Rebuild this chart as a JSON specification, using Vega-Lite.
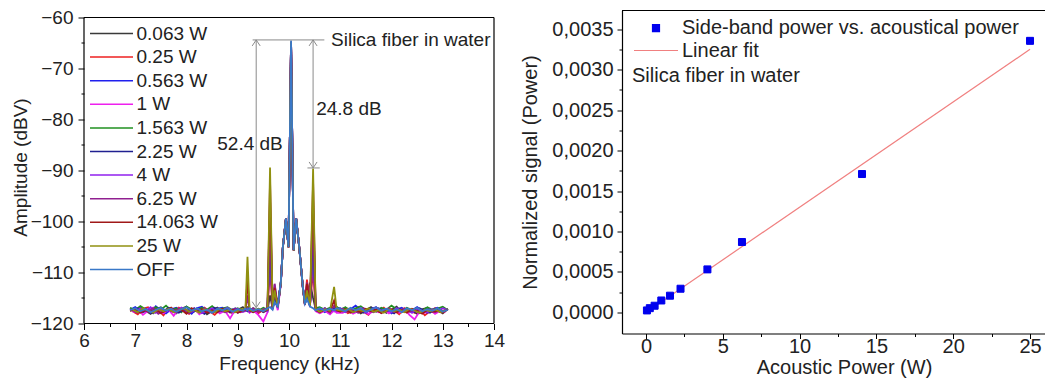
{
"$schema":"https://vega.github.io/schema/vega-lite/v6.json",
"padding":{"left":11,"top":7.5,"right":0,"bottom":0},
"config":{"font":"Liberation Sans","concat":{"spacing":15},
"axis":{"labelFont":"Liberation Sans","titleFont":"Liberation Sans","labelColor":"#222","titleColor":"#222","titleFontWeight":"normal","tickColor":"#000","domainColor":"#000","grid":false,"tickWidth":1,"labelFlush":false,"labelOverlap":false},
"legend":{"labelFont":"Liberation Sans","labelColor":"#222"}},
"resolve":{"scale":{"color":"independent","shape":"independent"},"legend":{"color":"independent","shape":"independent"}},
"datasets":{
"spec":[
{"s":"0.063 W","f":6.9,"a":-117.0},{"s":"0.063 W","f":7.0,"a":-117.8},{"s":"0.063 W","f":7.1,"a":-116.9},{"s":"0.063 W","f":7.2,"a":-117.5},{"s":"0.063 W","f":7.3,"a":-118.1},{"s":"0.063 W","f":7.4,"a":-117.2},{"s":"0.063 W","f":7.5,"a":-116.8},{"s":"0.063 W","f":7.6,"a":-117.6},{"s":"0.063 W","f":7.7,"a":-117.3},{"s":"0.063 W","f":7.8,"a":-118.0},{"s":"0.063 W","f":7.9,"a":-117.1},{"s":"0.063 W","f":8.0,"a":-116.7},{"s":"0.063 W","f":8.1,"a":-117.9},{"s":"0.063 W","f":8.2,"a":-117.4},{"s":"0.063 W","f":8.3,"a":-117.0},{"s":"0.063 W","f":8.4,"a":-118.2},{"s":"0.063 W","f":8.5,"a":-117.5},{"s":"0.063 W","f":8.6,"a":-116.9},{"s":"0.063 W","f":8.7,"a":-117.7},{"s":"0.063 W","f":8.8,"a":-117.2},{"s":"0.063 W","f":8.9,"a":-118.0},{"s":"0.063 W","f":9.0,"a":-117.3},{"s":"0.063 W","f":9.1,"a":-116.8},
{"s":"0.063 W","f":9.15,"a":-117.4},{"s":"0.063 W","f":9.19,"a":-117.0},{"s":"0.063 W","f":9.23,"a":-117.6},{"s":"0.063 W","f":9.3,"a":-117.2},{"s":"0.063 W","f":9.4,"a":-117.9},{"s":"0.063 W","f":9.5,"a":-117.1},{"s":"0.063 W","f":9.58,"a":-117.5},{"s":"0.063 W","f":9.63,"a":-114.5},{"s":"0.063 W","f":9.68,"a":-117.0},{"s":"0.063 W","f":9.72,"a":-115.5},{"s":"0.063 W","f":9.78,"a":-116.6},{"s":"0.063 W","f":9.84,"a":-112.0},{"s":"0.063 W","f":9.88,"a":-105.2},{"s":"0.063 W","f":9.94,"a":-99.5},{"s":"0.063 W","f":9.99,"a":-105.0},{"s":"0.063 W","f":10.04,"a":-64.9},{"s":"0.063 W","f":10.09,"a":-105.6},{"s":"0.063 W","f":10.14,"a":-99.5},{"s":"0.063 W","f":10.2,"a":-105.2},{"s":"0.063 W","f":10.27,"a":-113.0},{"s":"0.063 W","f":10.31,"a":-116.2},{"s":"0.063 W","f":10.35,"a":-114.5},{"s":"0.063 W","f":10.41,"a":-112.0},{"s":"0.063 W","f":10.47,"a":-115.0},{"s":"0.063 W","f":10.52,"a":-117.2},{"s":"0.063 W","f":10.6,"a":-117.6},{"s":"0.063 W","f":10.7,"a":-117.0},{"s":"0.063 W","f":10.8,"a":-117.8},{"s":"0.063 W","f":10.88,"a":-117.3},{"s":"0.063 W","f":10.93,"a":-116.9},
{"s":"0.063 W","f":11.0,"a":-117.5},{"s":"0.063 W","f":11.1,"a":-116.9},{"s":"0.063 W","f":11.2,"a":-117.7},{"s":"0.063 W","f":11.3,"a":-117.2},{"s":"0.063 W","f":11.4,"a":-118.0},{"s":"0.063 W","f":11.5,"a":-117.4},{"s":"0.063 W","f":11.6,"a":-116.8},{"s":"0.063 W","f":11.7,"a":-117.6},{"s":"0.063 W","f":11.8,"a":-117.1},{"s":"0.063 W","f":11.9,"a":-117.9},{"s":"0.063 W","f":12.0,"a":-117.3},{"s":"0.063 W","f":12.1,"a":-116.7},{"s":"0.063 W","f":12.2,"a":-117.8},{"s":"0.063 W","f":12.3,"a":-117.0},{"s":"0.063 W","f":12.4,"a":-117.5},{"s":"0.063 W","f":12.5,"a":-118.1},{"s":"0.063 W","f":12.6,"a":-117.2},{"s":"0.063 W","f":12.7,"a":-116.9},{"s":"0.063 W","f":12.8,"a":-117.6},{"s":"0.063 W","f":12.9,"a":-117.3},{"s":"0.063 W","f":13.0,"a":-118.0},{"s":"0.063 W","f":13.1,"a":-117.1},

{"s":"0.25 W","f":6.95,"a":-117.6},{"s":"0.25 W","f":7.05,"a":-118.2},{"s":"0.25 W","f":7.15,"a":-117.1},{"s":"0.25 W","f":7.25,"a":-116.8},{"s":"0.25 W","f":7.35,"a":-117.9},{"s":"0.25 W","f":7.45,"a":-117.4},{"s":"0.25 W","f":7.55,"a":-118.4},{"s":"0.25 W","f":7.65,"a":-117.0},{"s":"0.25 W","f":7.75,"a":-117.7},{"s":"0.25 W","f":7.85,"a":-116.9},{"s":"0.25 W","f":7.95,"a":-117.5},{"s":"0.25 W","f":8.05,"a":-118.1},{"s":"0.25 W","f":8.15,"a":-117.2},{"s":"0.25 W","f":8.25,"a":-117.8},{"s":"0.25 W","f":8.35,"a":-116.9},{"s":"0.25 W","f":8.45,"a":-117.6},{"s":"0.25 W","f":8.55,"a":-118.3},{"s":"0.25 W","f":8.65,"a":-117.3},{"s":"0.25 W","f":8.75,"a":-117.0},{"s":"0.25 W","f":8.85,"a":-117.9},{"s":"0.25 W","f":8.95,"a":-117.4},{"s":"0.25 W","f":9.05,"a":-117.7},
{"s":"0.25 W","f":9.15,"a":-117.2},{"s":"0.25 W","f":9.19,"a":-116.9},{"s":"0.25 W","f":9.23,"a":-117.7},{"s":"0.25 W","f":9.3,"a":-117.5},{"s":"0.25 W","f":9.4,"a":-118.0},{"s":"0.25 W","f":9.5,"a":-117.3},{"s":"0.25 W","f":9.58,"a":-117.0},{"s":"0.25 W","f":9.63,"a":-109.5},{"s":"0.25 W","f":9.68,"a":-116.8},{"s":"0.25 W","f":9.72,"a":-115.0},{"s":"0.25 W","f":9.78,"a":-116.9},{"s":"0.25 W","f":9.84,"a":-112.2},{"s":"0.25 W","f":9.88,"a":-105.0},{"s":"0.25 W","f":9.94,"a":-99.4},{"s":"0.25 W","f":9.99,"a":-105.1},{"s":"0.25 W","f":10.04,"a":-64.7},{"s":"0.25 W","f":10.09,"a":-105.7},{"s":"0.25 W","f":10.14,"a":-99.4},{"s":"0.25 W","f":10.2,"a":-105.0},{"s":"0.25 W","f":10.27,"a":-112.8},{"s":"0.25 W","f":10.31,"a":-116.0},{"s":"0.25 W","f":10.35,"a":-111.4},{"s":"0.25 W","f":10.41,"a":-116.3},{"s":"0.25 W","f":10.47,"a":-109.7},{"s":"0.25 W","f":10.52,"a":-117.0},{"s":"0.25 W","f":10.6,"a":-117.9},{"s":"0.25 W","f":10.7,"a":-117.4},{"s":"0.25 W","f":10.8,"a":-118.1},{"s":"0.25 W","f":10.88,"a":-117.0},{"s":"0.25 W","f":10.93,"a":-117.6},
{"s":"0.25 W","f":11.05,"a":-117.2},{"s":"0.25 W","f":11.15,"a":-118.0},{"s":"0.25 W","f":11.25,"a":-117.5},{"s":"0.25 W","f":11.35,"a":-116.8},{"s":"0.25 W","f":11.45,"a":-117.7},{"s":"0.25 W","f":11.55,"a":-118.3},{"s":"0.25 W","f":11.65,"a":-117.1},{"s":"0.25 W","f":11.75,"a":-117.6},{"s":"0.25 W","f":11.85,"a":-116.9},{"s":"0.25 W","f":11.95,"a":-117.8},{"s":"0.25 W","f":12.05,"a":-117.4},{"s":"0.25 W","f":12.15,"a":-118.2},{"s":"0.25 W","f":12.25,"a":-117.0},{"s":"0.25 W","f":12.35,"a":-117.5},{"s":"0.25 W","f":12.45,"a":-117.9},{"s":"0.25 W","f":12.55,"a":-117.2},{"s":"0.25 W","f":12.65,"a":-118.4},{"s":"0.25 W","f":12.75,"a":-117.6},{"s":"0.25 W","f":12.85,"a":-117.0},{"s":"0.25 W","f":12.95,"a":-117.8},{"s":"0.25 W","f":13.05,"a":-117.3},

{"s":"0.563 W","f":6.9,"a":-117.3},{"s":"0.563 W","f":7.0,"a":-116.8},{"s":"0.563 W","f":7.1,"a":-117.7},{"s":"0.563 W","f":7.2,"a":-117.1},{"s":"0.563 W","f":7.3,"a":-117.9},{"s":"0.563 W","f":7.4,"a":-116.6},{"s":"0.563 W","f":7.5,"a":-117.4},{"s":"0.563 W","f":7.6,"a":-118.0},{"s":"0.563 W","f":7.7,"a":-117.2},{"s":"0.563 W","f":7.8,"a":-116.9},{"s":"0.563 W","f":7.9,"a":-117.6},{"s":"0.563 W","f":8.0,"a":-117.3},{"s":"0.563 W","f":8.1,"a":-118.1},{"s":"0.563 W","f":8.2,"a":-117.0},{"s":"0.563 W","f":8.3,"a":-116.7},{"s":"0.563 W","f":8.4,"a":-117.5},{"s":"0.563 W","f":8.5,"a":-117.8},{"s":"0.563 W","f":8.6,"a":-117.1},{"s":"0.563 W","f":8.7,"a":-116.9},{"s":"0.563 W","f":8.8,"a":-117.6},{"s":"0.563 W","f":8.9,"a":-117.2},{"s":"0.563 W","f":9.0,"a":-117.9},{"s":"0.563 W","f":9.1,"a":-117.4},
{"s":"0.563 W","f":9.15,"a":-117.0},{"s":"0.563 W","f":9.19,"a":-117.5},{"s":"0.563 W","f":9.23,"a":-117.1},{"s":"0.563 W","f":9.3,"a":-117.8},{"s":"0.563 W","f":9.4,"a":-117.3},{"s":"0.563 W","f":9.5,"a":-117.6},{"s":"0.563 W","f":9.58,"a":-117.2},{"s":"0.563 W","f":9.63,"a":-106.0},{"s":"0.563 W","f":9.68,"a":-117.1},{"s":"0.563 W","f":9.72,"a":-115.2},{"s":"0.563 W","f":9.78,"a":-116.7},{"s":"0.563 W","f":9.84,"a":-112.1},{"s":"0.563 W","f":9.88,"a":-105.1},{"s":"0.563 W","f":9.94,"a":-99.5},{"s":"0.563 W","f":9.99,"a":-105.0},{"s":"0.563 W","f":10.04,"a":-64.8},{"s":"0.563 W","f":10.09,"a":-105.6},{"s":"0.563 W","f":10.14,"a":-99.5},{"s":"0.563 W","f":10.2,"a":-105.1},{"s":"0.563 W","f":10.27,"a":-112.9},{"s":"0.563 W","f":10.31,"a":-116.1},{"s":"0.563 W","f":10.35,"a":-114.8},{"s":"0.563 W","f":10.41,"a":-116.5},{"s":"0.563 W","f":10.47,"a":-106.2},{"s":"0.563 W","f":10.52,"a":-117.3},{"s":"0.563 W","f":10.6,"a":-117.1},{"s":"0.563 W","f":10.7,"a":-117.8},{"s":"0.563 W","f":10.8,"a":-117.2},{"s":"0.563 W","f":10.88,"a":-117.6},{"s":"0.563 W","f":10.93,"a":-117.0},
{"s":"0.563 W","f":11.0,"a":-117.0},{"s":"0.563 W","f":11.1,"a":-117.6},{"s":"0.563 W","f":11.2,"a":-117.2},{"s":"0.563 W","f":11.3,"a":-116.5},{"s":"0.563 W","f":11.4,"a":-117.4},{"s":"0.563 W","f":11.5,"a":-117.9},{"s":"0.563 W","f":11.6,"a":-117.1},{"s":"0.563 W","f":11.7,"a":-116.8},{"s":"0.563 W","f":11.8,"a":-117.6},{"s":"0.563 W","f":11.9,"a":-117.3},{"s":"0.563 W","f":12.0,"a":-118.0},{"s":"0.563 W","f":12.1,"a":-117.2},{"s":"0.563 W","f":12.2,"a":-116.9},{"s":"0.563 W","f":12.3,"a":-117.7},{"s":"0.563 W","f":12.4,"a":-117.4},{"s":"0.563 W","f":12.5,"a":-116.8},{"s":"0.563 W","f":12.6,"a":-117.5},{"s":"0.563 W","f":12.7,"a":-117.9},{"s":"0.563 W","f":12.8,"a":-117.2},{"s":"0.563 W","f":12.9,"a":-116.9},{"s":"0.563 W","f":13.0,"a":-117.6},{"s":"0.563 W","f":13.1,"a":-117.3},

{"s":"1 W","f":6.95,"a":-117.8},{"s":"1 W","f":7.05,"a":-117.2},{"s":"1 W","f":7.15,"a":-118.3},{"s":"1 W","f":7.25,"a":-117.5},{"s":"1 W","f":7.35,"a":-116.9},{"s":"1 W","f":7.45,"a":-117.7},{"s":"1 W","f":7.55,"a":-118.0},{"s":"1 W","f":7.65,"a":-117.3},{"s":"1 W","f":7.75,"a":-118.5},{"s":"1 W","f":7.85,"a":-117.1},{"s":"1 W","f":7.95,"a":-117.6},{"s":"1 W","f":8.05,"a":-117.9},{"s":"1 W","f":8.15,"a":-117.0},{"s":"1 W","f":8.25,"a":-118.2},{"s":"1 W","f":8.35,"a":-117.4},{"s":"1 W","f":8.45,"a":-117.8},{"s":"1 W","f":8.55,"a":-117.1},{"s":"1 W","f":8.65,"a":-118.0},{"s":"1 W","f":8.75,"a":-117.5},{"s":"1 W","f":8.85,"a":-119.0},{"s":"1 W","f":8.95,"a":-117.3},{"s":"1 W","f":9.05,"a":-117.8},
{"s":"1 W","f":9.15,"a":-117.6},{"s":"1 W","f":9.19,"a":-117.3},{"s":"1 W","f":9.23,"a":-117.9},{"s":"1 W","f":9.3,"a":-117.4},{"s":"1 W","f":9.4,"a":-118.3},{"s":"1 W","f":9.5,"a":-119.6},{"s":"1 W","f":9.58,"a":-117.8},{"s":"1 W","f":9.63,"a":-103.5},{"s":"1 W","f":9.68,"a":-117.3},{"s":"1 W","f":9.72,"a":-114.8},{"s":"1 W","f":9.78,"a":-117.4},{"s":"1 W","f":9.84,"a":-112.3},{"s":"1 W","f":9.88,"a":-105.0},{"s":"1 W","f":9.94,"a":-99.4},{"s":"1 W","f":9.99,"a":-105.1},{"s":"1 W","f":10.04,"a":-64.8},{"s":"1 W","f":10.09,"a":-105.7},{"s":"1 W","f":10.14,"a":-99.4},{"s":"1 W","f":10.2,"a":-105.0},{"s":"1 W","f":10.27,"a":-113.0},{"s":"1 W","f":10.31,"a":-116.4},{"s":"1 W","f":10.35,"a":-113.0},{"s":"1 W","f":10.41,"a":-116.8},{"s":"1 W","f":10.47,"a":-103.7},{"s":"1 W","f":10.52,"a":-117.6},{"s":"1 W","f":10.6,"a":-118.0},{"s":"1 W","f":10.7,"a":-117.5},{"s":"1 W","f":10.8,"a":-118.2},{"s":"1 W","f":10.88,"a":-117.4},{"s":"1 W","f":10.93,"a":-117.9},
{"s":"1 W","f":11.05,"a":-117.9},{"s":"1 W","f":11.15,"a":-117.3},{"s":"1 W","f":11.25,"a":-118.1},{"s":"1 W","f":11.35,"a":-117.6},{"s":"1 W","f":11.45,"a":-117.0},{"s":"1 W","f":11.55,"a":-118.2},{"s":"1 W","f":11.65,"a":-117.5},{"s":"1 W","f":11.75,"a":-117.8},{"s":"1 W","f":11.85,"a":-117.2},{"s":"1 W","f":11.95,"a":-118.0},{"s":"1 W","f":12.05,"a":-117.4},{"s":"1 W","f":12.15,"a":-117.9},{"s":"1 W","f":12.25,"a":-117.1},{"s":"1 W","f":12.35,"a":-118.3},{"s":"1 W","f":12.45,"a":-119.2},{"s":"1 W","f":12.55,"a":-117.6},{"s":"1 W","f":12.65,"a":-117.9},{"s":"1 W","f":12.75,"a":-117.3},{"s":"1 W","f":12.85,"a":-118.1},{"s":"1 W","f":12.95,"a":-117.5},{"s":"1 W","f":13.05,"a":-117.8},

{"s":"1.563 W","f":6.9,"a":-116.9},{"s":"1.563 W","f":7.0,"a":-117.4},{"s":"1.563 W","f":7.1,"a":-116.6},{"s":"1.563 W","f":7.2,"a":-117.2},{"s":"1.563 W","f":7.3,"a":-117.7},{"s":"1.563 W","f":7.4,"a":-116.8},{"s":"1.563 W","f":7.5,"a":-117.3},{"s":"1.563 W","f":7.6,"a":-116.5},{"s":"1.563 W","f":7.7,"a":-117.5},{"s":"1.563 W","f":7.8,"a":-117.0},{"s":"1.563 W","f":7.9,"a":-117.8},{"s":"1.563 W","f":8.0,"a":-116.7},{"s":"1.563 W","f":8.1,"a":-117.2},{"s":"1.563 W","f":8.2,"a":-117.6},{"s":"1.563 W","f":8.3,"a":-116.9},{"s":"1.563 W","f":8.4,"a":-117.3},{"s":"1.563 W","f":8.5,"a":-116.6},{"s":"1.563 W","f":8.6,"a":-117.5},{"s":"1.563 W","f":8.7,"a":-117.1},{"s":"1.563 W","f":8.8,"a":-116.8},{"s":"1.563 W","f":8.9,"a":-117.4},{"s":"1.563 W","f":9.0,"a":-117.0},{"s":"1.563 W","f":9.1,"a":-117.6},
{"s":"1.563 W","f":9.15,"a":-117.1},{"s":"1.563 W","f":9.19,"a":-116.8},{"s":"1.563 W","f":9.23,"a":-117.4},{"s":"1.563 W","f":9.3,"a":-117.0},{"s":"1.563 W","f":9.4,"a":-117.5},{"s":"1.563 W","f":9.5,"a":-116.9},{"s":"1.563 W","f":9.58,"a":-117.3},{"s":"1.563 W","f":9.63,"a":-101.6},{"s":"1.563 W","f":9.68,"a":-116.9},{"s":"1.563 W","f":9.72,"a":-114.9},{"s":"1.563 W","f":9.78,"a":-116.5},{"s":"1.563 W","f":9.84,"a":-112.0},{"s":"1.563 W","f":9.88,"a":-105.1},{"s":"1.563 W","f":9.94,"a":-99.4},{"s":"1.563 W","f":9.99,"a":-105.0},{"s":"1.563 W","f":10.04,"a":-64.8},{"s":"1.563 W","f":10.09,"a":-105.6},{"s":"1.563 W","f":10.14,"a":-99.4},{"s":"1.563 W","f":10.2,"a":-105.1},{"s":"1.563 W","f":10.27,"a":-112.8},{"s":"1.563 W","f":10.31,"a":-116.0},{"s":"1.563 W","f":10.35,"a":-114.6},{"s":"1.563 W","f":10.41,"a":-116.4},{"s":"1.563 W","f":10.47,"a":-101.8},{"s":"1.563 W","f":10.52,"a":-117.0},{"s":"1.563 W","f":10.6,"a":-116.8},{"s":"1.563 W","f":10.7,"a":-117.3},{"s":"1.563 W","f":10.8,"a":-116.9},{"s":"1.563 W","f":10.88,"a":-117.2},{"s":"1.563 W","f":10.93,"a":-116.7},
{"s":"1.563 W","f":11.0,"a":-117.3},{"s":"1.563 W","f":11.1,"a":-116.8},{"s":"1.563 W","f":11.2,"a":-117.5},{"s":"1.563 W","f":11.3,"a":-117.0},{"s":"1.563 W","f":11.4,"a":-116.6},{"s":"1.563 W","f":11.5,"a":-117.4},{"s":"1.563 W","f":11.6,"a":-117.1},{"s":"1.563 W","f":11.7,"a":-117.7},{"s":"1.563 W","f":11.8,"a":-116.9},{"s":"1.563 W","f":11.9,"a":-117.3},{"s":"1.563 W","f":12.0,"a":-116.5},{"s":"1.563 W","f":12.1,"a":-117.2},{"s":"1.563 W","f":12.2,"a":-117.6},{"s":"1.563 W","f":12.3,"a":-116.9},{"s":"1.563 W","f":12.4,"a":-117.4},{"s":"1.563 W","f":12.5,"a":-117.0},{"s":"1.563 W","f":12.6,"a":-117.5},{"s":"1.563 W","f":12.7,"a":-116.8},{"s":"1.563 W","f":12.8,"a":-117.3},{"s":"1.563 W","f":12.9,"a":-117.1},{"s":"1.563 W","f":13.0,"a":-116.7},{"s":"1.563 W","f":13.1,"a":-117.4},

{"s":"2.25 W","f":6.95,"a":-117.5},{"s":"2.25 W","f":7.05,"a":-117.0},{"s":"2.25 W","f":7.15,"a":-117.8},{"s":"2.25 W","f":7.25,"a":-117.3},{"s":"2.25 W","f":7.35,"a":-118.0},{"s":"2.25 W","f":7.45,"a":-117.1},{"s":"2.25 W","f":7.55,"a":-117.6},{"s":"2.25 W","f":7.65,"a":-116.9},{"s":"2.25 W","f":7.75,"a":-117.4},{"s":"2.25 W","f":7.85,"a":-117.9},{"s":"2.25 W","f":7.95,"a":-117.2},{"s":"2.25 W","f":8.05,"a":-117.7},{"s":"2.25 W","f":8.15,"a":-117.0},{"s":"2.25 W","f":8.25,"a":-117.5},{"s":"2.25 W","f":8.35,"a":-118.1},{"s":"2.25 W","f":8.45,"a":-117.3},{"s":"2.25 W","f":8.55,"a":-116.9},{"s":"2.25 W","f":8.65,"a":-117.6},{"s":"2.25 W","f":8.75,"a":-117.2},{"s":"2.25 W","f":8.85,"a":-117.8},{"s":"2.25 W","f":8.95,"a":-117.0},{"s":"2.25 W","f":9.05,"a":-117.5},
{"s":"2.25 W","f":9.15,"a":-117.3},{"s":"2.25 W","f":9.19,"a":-117.6},{"s":"2.25 W","f":9.23,"a":-117.2},{"s":"2.25 W","f":9.3,"a":-117.7},{"s":"2.25 W","f":9.4,"a":-117.1},{"s":"2.25 W","f":9.5,"a":-117.8},{"s":"2.25 W","f":9.58,"a":-117.4},{"s":"2.25 W","f":9.63,"a":-100.0},{"s":"2.25 W","f":9.68,"a":-117.2},{"s":"2.25 W","f":9.72,"a":-114.6},{"s":"2.25 W","f":9.78,"a":-116.8},{"s":"2.25 W","f":9.84,"a":-112.1},{"s":"2.25 W","f":9.88,"a":-105.0},{"s":"2.25 W","f":9.94,"a":-99.5},{"s":"2.25 W","f":9.99,"a":-105.1},{"s":"2.25 W","f":10.04,"a":-64.8},{"s":"2.25 W","f":10.09,"a":-105.7},{"s":"2.25 W","f":10.14,"a":-99.5},{"s":"2.25 W","f":10.2,"a":-105.0},{"s":"2.25 W","f":10.27,"a":-112.9},{"s":"2.25 W","f":10.31,"a":-116.3},{"s":"2.25 W","f":10.35,"a":-114.4},{"s":"2.25 W","f":10.41,"a":-116.6},{"s":"2.25 W","f":10.47,"a":-100.2},{"s":"2.25 W","f":10.52,"a":-117.4},{"s":"2.25 W","f":10.6,"a":-117.7},{"s":"2.25 W","f":10.7,"a":-117.1},{"s":"2.25 W","f":10.8,"a":-117.6},{"s":"2.25 W","f":10.88,"a":-117.0},{"s":"2.25 W","f":10.93,"a":-117.5},
{"s":"2.25 W","f":11.05,"a":-117.6},{"s":"2.25 W","f":11.15,"a":-117.1},{"s":"2.25 W","f":11.25,"a":-117.8},{"s":"2.25 W","f":11.35,"a":-117.3},{"s":"2.25 W","f":11.45,"a":-117.9},{"s":"2.25 W","f":11.55,"a":-117.2},{"s":"2.25 W","f":11.65,"a":-117.5},{"s":"2.25 W","f":11.75,"a":-117.0},{"s":"2.25 W","f":11.85,"a":-117.7},{"s":"2.25 W","f":11.95,"a":-117.4},{"s":"2.25 W","f":12.05,"a":-118.0},{"s":"2.25 W","f":12.15,"a":-117.1},{"s":"2.25 W","f":12.25,"a":-117.6},{"s":"2.25 W","f":12.35,"a":-117.3},{"s":"2.25 W","f":12.45,"a":-117.8},{"s":"2.25 W","f":12.55,"a":-117.0},{"s":"2.25 W","f":12.65,"a":-117.5},{"s":"2.25 W","f":12.75,"a":-117.9},{"s":"2.25 W","f":12.85,"a":-117.2},{"s":"2.25 W","f":12.95,"a":-117.7},{"s":"2.25 W","f":13.05,"a":-117.4},

{"s":"4 W","f":6.9,"a":-117.2},{"s":"4 W","f":7.0,"a":-117.7},{"s":"4 W","f":7.1,"a":-117.0},{"s":"4 W","f":7.2,"a":-117.5},{"s":"4 W","f":7.3,"a":-116.8},{"s":"4 W","f":7.4,"a":-117.9},{"s":"4 W","f":7.5,"a":-117.3},{"s":"4 W","f":7.6,"a":-117.6},{"s":"4 W","f":7.7,"a":-117.1},{"s":"4 W","f":7.8,"a":-117.8},{"s":"4 W","f":7.9,"a":-116.9},{"s":"4 W","f":8.0,"a":-117.4},{"s":"4 W","f":8.1,"a":-117.7},{"s":"4 W","f":8.2,"a":-117.2},{"s":"4 W","f":8.3,"a":-118.0},{"s":"4 W","f":8.4,"a":-117.5},{"s":"4 W","f":8.5,"a":-117.0},{"s":"4 W","f":8.6,"a":-117.8},{"s":"4 W","f":8.7,"a":-117.3},{"s":"4 W","f":8.8,"a":-116.9},{"s":"4 W","f":8.9,"a":-117.6},{"s":"4 W","f":9.0,"a":-117.1},{"s":"4 W","f":9.1,"a":-117.7},
{"s":"4 W","f":9.15,"a":-117.5},{"s":"4 W","f":9.19,"a":-117.1},{"s":"4 W","f":9.23,"a":-117.8},{"s":"4 W","f":9.3,"a":-117.3},{"s":"4 W","f":9.4,"a":-117.6},{"s":"4 W","f":9.5,"a":-117.2},{"s":"4 W","f":9.58,"a":-117.6},{"s":"4 W","f":9.63,"a":-97.5},{"s":"4 W","f":9.68,"a":-117.0},{"s":"4 W","f":9.72,"a":-112.4},{"s":"4 W","f":9.78,"a":-116.9},{"s":"4 W","f":9.84,"a":-112.0},{"s":"4 W","f":9.88,"a":-105.1},{"s":"4 W","f":9.94,"a":-99.4},{"s":"4 W","f":9.99,"a":-105.0},{"s":"4 W","f":10.04,"a":-64.8},{"s":"4 W","f":10.09,"a":-105.6},{"s":"4 W","f":10.14,"a":-99.4},{"s":"4 W","f":10.2,"a":-105.1},{"s":"4 W","f":10.27,"a":-112.8},{"s":"4 W","f":10.31,"a":-116.1},{"s":"4 W","f":10.35,"a":-112.6},{"s":"4 W","f":10.41,"a":-116.5},{"s":"4 W","f":10.47,"a":-97.7},{"s":"4 W","f":10.52,"a":-117.2},{"s":"4 W","f":10.6,"a":-117.5},{"s":"4 W","f":10.7,"a":-117.0},{"s":"4 W","f":10.8,"a":-117.7},{"s":"4 W","f":10.88,"a":-117.3},{"s":"4 W","f":10.93,"a":-117.6},
{"s":"4 W","f":11.0,"a":-117.4},{"s":"4 W","f":11.1,"a":-117.8},{"s":"4 W","f":11.2,"a":-117.1},{"s":"4 W","f":11.3,"a":-117.6},{"s":"4 W","f":11.4,"a":-117.0},{"s":"4 W","f":11.5,"a":-117.9},{"s":"4 W","f":11.6,"a":-117.3},{"s":"4 W","f":11.7,"a":-116.8},{"s":"4 W","f":11.8,"a":-117.5},{"s":"4 W","f":11.9,"a":-117.2},{"s":"4 W","f":12.0,"a":-117.8},{"s":"4 W","f":12.1,"a":-117.0},{"s":"4 W","f":12.2,"a":-117.6},{"s":"4 W","f":12.3,"a":-117.3},{"s":"4 W","f":12.4,"a":-117.9},{"s":"4 W","f":12.5,"a":-117.1},{"s":"4 W","f":12.6,"a":-117.5},{"s":"4 W","f":12.7,"a":-117.8},{"s":"4 W","f":12.8,"a":-117.2},{"s":"4 W","f":12.9,"a":-117.6},{"s":"4 W","f":13.0,"a":-117.0},{"s":"4 W","f":13.1,"a":-117.4},

{"s":"6.25 W","f":6.95,"a":-117.4},{"s":"6.25 W","f":7.05,"a":-117.9},{"s":"6.25 W","f":7.15,"a":-117.2},{"s":"6.25 W","f":7.25,"a":-117.7},{"s":"6.25 W","f":7.35,"a":-117.0},{"s":"6.25 W","f":7.45,"a":-118.1},{"s":"6.25 W","f":7.55,"a":-117.5},{"s":"6.25 W","f":7.65,"a":-117.3},{"s":"6.25 W","f":7.75,"a":-117.8},{"s":"6.25 W","f":7.85,"a":-117.1},{"s":"6.25 W","f":7.95,"a":-117.6},{"s":"6.25 W","f":8.05,"a":-118.0},{"s":"6.25 W","f":8.15,"a":-117.3},{"s":"6.25 W","f":8.25,"a":-117.7},{"s":"6.25 W","f":8.35,"a":-117.0},{"s":"6.25 W","f":8.45,"a":-117.9},{"s":"6.25 W","f":8.55,"a":-117.4},{"s":"6.25 W","f":8.65,"a":-117.2},{"s":"6.25 W","f":8.75,"a":-117.8},{"s":"6.25 W","f":8.85,"a":-117.5},{"s":"6.25 W","f":8.95,"a":-117.1},{"s":"6.25 W","f":9.05,"a":-117.7},
{"s":"6.25 W","f":9.15,"a":-117.4},{"s":"6.25 W","f":9.19,"a":-114.5},{"s":"6.25 W","f":9.23,"a":-117.5},{"s":"6.25 W","f":9.3,"a":-117.0},{"s":"6.25 W","f":9.4,"a":-117.7},{"s":"6.25 W","f":9.5,"a":-117.3},{"s":"6.25 W","f":9.58,"a":-117.1},{"s":"6.25 W","f":9.63,"a":-95.5},{"s":"6.25 W","f":9.68,"a":-116.8},{"s":"6.25 W","f":9.72,"a":-112.2},{"s":"6.25 W","f":9.78,"a":-116.6},{"s":"6.25 W","f":9.84,"a":-112.1},{"s":"6.25 W","f":9.88,"a":-105.0},{"s":"6.25 W","f":9.94,"a":-99.5},{"s":"6.25 W","f":9.99,"a":-105.1},{"s":"6.25 W","f":10.04,"a":-64.8},{"s":"6.25 W","f":10.09,"a":-105.7},{"s":"6.25 W","f":10.14,"a":-99.5},{"s":"6.25 W","f":10.2,"a":-105.0},{"s":"6.25 W","f":10.27,"a":-112.9},{"s":"6.25 W","f":10.31,"a":-116.2},{"s":"6.25 W","f":10.35,"a":-112.0},{"s":"6.25 W","f":10.41,"a":-116.4},{"s":"6.25 W","f":10.47,"a":-95.7},{"s":"6.25 W","f":10.52,"a":-117.1},{"s":"6.25 W","f":10.6,"a":-117.6},{"s":"6.25 W","f":10.7,"a":-117.2},{"s":"6.25 W","f":10.8,"a":-117.9},{"s":"6.25 W","f":10.88,"a":-116.5},{"s":"6.25 W","f":10.93,"a":-117.3},
{"s":"6.25 W","f":11.05,"a":-117.1},{"s":"6.25 W","f":11.15,"a":-117.7},{"s":"6.25 W","f":11.25,"a":-117.3},{"s":"6.25 W","f":11.35,"a":-117.9},{"s":"6.25 W","f":11.45,"a":-117.0},{"s":"6.25 W","f":11.55,"a":-117.5},{"s":"6.25 W","f":11.65,"a":-117.8},{"s":"6.25 W","f":11.75,"a":-117.2},{"s":"6.25 W","f":11.85,"a":-117.6},{"s":"6.25 W","f":11.95,"a":-117.0},{"s":"6.25 W","f":12.05,"a":-117.8},{"s":"6.25 W","f":12.15,"a":-117.4},{"s":"6.25 W","f":12.25,"a":-117.1},{"s":"6.25 W","f":12.35,"a":-117.7},{"s":"6.25 W","f":12.45,"a":-117.3},{"s":"6.25 W","f":12.55,"a":-118.0},{"s":"6.25 W","f":12.65,"a":-117.5},{"s":"6.25 W","f":12.75,"a":-117.2},{"s":"6.25 W","f":12.85,"a":-117.8},{"s":"6.25 W","f":12.95,"a":-117.4},{"s":"6.25 W","f":13.05,"a":-117.6},

{"s":"14.063 W","f":6.9,"a":-117.6},{"s":"14.063 W","f":7.0,"a":-117.1},{"s":"14.063 W","f":7.1,"a":-117.9},{"s":"14.063 W","f":7.2,"a":-117.4},{"s":"14.063 W","f":7.3,"a":-117.8},{"s":"14.063 W","f":7.4,"a":-117.2},{"s":"14.063 W","f":7.5,"a":-118.0},{"s":"14.063 W","f":7.6,"a":-117.5},{"s":"14.063 W","f":7.7,"a":-116.9},{"s":"14.063 W","f":7.8,"a":-117.7},{"s":"14.063 W","f":7.9,"a":-117.3},{"s":"14.063 W","f":8.0,"a":-118.1},{"s":"14.063 W","f":8.1,"a":-117.0},{"s":"14.063 W","f":8.2,"a":-117.6},{"s":"14.063 W","f":8.3,"a":-117.2},{"s":"14.063 W","f":8.4,"a":-117.9},{"s":"14.063 W","f":8.5,"a":-117.4},{"s":"14.063 W","f":8.6,"a":-117.8},{"s":"14.063 W","f":8.7,"a":-117.1},{"s":"14.063 W","f":8.8,"a":-117.6},{"s":"14.063 W","f":8.9,"a":-117.3},{"s":"14.063 W","f":9.0,"a":-117.9},{"s":"14.063 W","f":9.1,"a":-117.5},
{"s":"14.063 W","f":9.15,"a":-117.3},{"s":"14.063 W","f":9.19,"a":-111.4},{"s":"14.063 W","f":9.23,"a":-117.4},{"s":"14.063 W","f":9.3,"a":-117.8},{"s":"14.063 W","f":9.4,"a":-117.2},{"s":"14.063 W","f":9.5,"a":-117.7},{"s":"14.063 W","f":9.58,"a":-117.3},{"s":"14.063 W","f":9.63,"a":-92.0},{"s":"14.063 W","f":9.68,"a":-116.9},{"s":"14.063 W","f":9.72,"a":-113.0},{"s":"14.063 W","f":9.78,"a":-116.8},{"s":"14.063 W","f":9.84,"a":-112.0},{"s":"14.063 W","f":9.88,"a":-105.1},{"s":"14.063 W","f":9.94,"a":-99.4},{"s":"14.063 W","f":9.99,"a":-105.0},{"s":"14.063 W","f":10.04,"a":-64.8},{"s":"14.063 W","f":10.09,"a":-105.6},{"s":"14.063 W","f":10.14,"a":-99.4},{"s":"14.063 W","f":10.2,"a":-105.1},{"s":"14.063 W","f":10.27,"a":-112.8},{"s":"14.063 W","f":10.31,"a":-116.3},{"s":"14.063 W","f":10.35,"a":-112.2},{"s":"14.063 W","f":10.41,"a":-116.6},{"s":"14.063 W","f":10.47,"a":-92.2},{"s":"14.063 W","f":10.52,"a":-117.3},{"s":"14.063 W","f":10.6,"a":-117.8},{"s":"14.063 W","f":10.7,"a":-117.3},{"s":"14.063 W","f":10.8,"a":-117.6},{"s":"14.063 W","f":10.88,"a":-115.5},{"s":"14.063 W","f":10.93,"a":-117.4},
{"s":"14.063 W","f":11.0,"a":-117.7},{"s":"14.063 W","f":11.1,"a":-117.2},{"s":"14.063 W","f":11.2,"a":-117.9},{"s":"14.063 W","f":11.3,"a":-117.4},{"s":"14.063 W","f":11.4,"a":-117.8},{"s":"14.063 W","f":11.5,"a":-117.1},{"s":"14.063 W","f":11.6,"a":-117.6},{"s":"14.063 W","f":11.7,"a":-117.3},{"s":"14.063 W","f":11.8,"a":-118.0},{"s":"14.063 W","f":11.9,"a":-117.5},{"s":"14.063 W","f":12.0,"a":-117.2},{"s":"14.063 W","f":12.1,"a":-117.8},{"s":"14.063 W","f":12.2,"a":-117.4},{"s":"14.063 W","f":12.3,"a":-117.9},{"s":"14.063 W","f":12.4,"a":-117.1},{"s":"14.063 W","f":12.5,"a":-117.6},{"s":"14.063 W","f":12.6,"a":-118.1},{"s":"14.063 W","f":12.7,"a":-117.3},{"s":"14.063 W","f":12.8,"a":-117.7},{"s":"14.063 W","f":12.9,"a":-117.5},{"s":"14.063 W","f":13.0,"a":-117.9},{"s":"14.063 W","f":13.1,"a":-117.2},

{"s":"25 W","f":6.95,"a":-117.3},{"s":"25 W","f":7.05,"a":-117.8},{"s":"25 W","f":7.15,"a":-117.0},{"s":"25 W","f":7.25,"a":-117.5},{"s":"25 W","f":7.35,"a":-117.9},{"s":"25 W","f":7.45,"a":-117.2},{"s":"25 W","f":7.55,"a":-117.6},{"s":"25 W","f":7.65,"a":-117.1},{"s":"25 W","f":7.75,"a":-117.8},{"s":"25 W","f":7.85,"a":-117.4},{"s":"25 W","f":7.95,"a":-117.0},{"s":"25 W","f":8.05,"a":-117.7},{"s":"25 W","f":8.15,"a":-117.3},{"s":"25 W","f":8.25,"a":-117.9},{"s":"25 W","f":8.35,"a":-117.2},{"s":"25 W","f":8.45,"a":-117.5},{"s":"25 W","f":8.55,"a":-117.8},{"s":"25 W","f":8.65,"a":-117.1},{"s":"25 W","f":8.75,"a":-117.6},{"s":"25 W","f":8.85,"a":-117.3},{"s":"25 W","f":8.95,"a":-117.8},{"s":"25 W","f":9.05,"a":-117.2},
{"s":"25 W","f":9.15,"a":-117.2},{"s":"25 W","f":9.19,"a":-106.9},{"s":"25 W","f":9.23,"a":-117.3},{"s":"25 W","f":9.3,"a":-117.6},{"s":"25 W","f":9.4,"a":-117.1},{"s":"25 W","f":9.5,"a":-117.5},{"s":"25 W","f":9.58,"a":-117.2},{"s":"25 W","f":9.63,"a":-89.4},{"s":"25 W","f":9.68,"a":-116.7},{"s":"25 W","f":9.72,"a":-113.5},{"s":"25 W","f":9.78,"a":-116.7},{"s":"25 W","f":9.84,"a":-112.1},{"s":"25 W","f":9.88,"a":-105.0},{"s":"25 W","f":9.94,"a":-99.5},{"s":"25 W","f":9.99,"a":-105.1},{"s":"25 W","f":10.04,"a":-64.8},{"s":"25 W","f":10.09,"a":-105.7},{"s":"25 W","f":10.14,"a":-99.5},{"s":"25 W","f":10.2,"a":-105.0},{"s":"25 W","f":10.27,"a":-112.9},{"s":"25 W","f":10.31,"a":-116.2},{"s":"25 W","f":10.35,"a":-113.5},{"s":"25 W","f":10.41,"a":-116.5},{"s":"25 W","f":10.47,"a":-89.6},{"s":"25 W","f":10.52,"a":-117.2},{"s":"25 W","f":10.6,"a":-117.7},{"s":"25 W","f":10.7,"a":-117.2},{"s":"25 W","f":10.8,"a":-117.5},{"s":"25 W","f":10.88,"a":-112.8},{"s":"25 W","f":10.93,"a":-117.3},
{"s":"25 W","f":11.05,"a":-117.5},{"s":"25 W","f":11.15,"a":-117.1},{"s":"25 W","f":11.25,"a":-117.8},{"s":"25 W","f":11.35,"a":-117.3},{"s":"25 W","f":11.45,"a":-117.6},{"s":"25 W","f":11.55,"a":-117.0},{"s":"25 W","f":11.65,"a":-117.7},{"s":"25 W","f":11.75,"a":-117.4},{"s":"25 W","f":11.85,"a":-117.9},{"s":"25 W","f":11.95,"a":-117.2},{"s":"25 W","f":12.05,"a":-117.6},{"s":"25 W","f":12.15,"a":-117.3},{"s":"25 W","f":12.25,"a":-117.8},{"s":"25 W","f":12.35,"a":-117.1},{"s":"25 W","f":12.45,"a":-117.5},{"s":"25 W","f":12.55,"a":-117.9},{"s":"25 W","f":12.65,"a":-117.3},{"s":"25 W","f":12.75,"a":-117.6},{"s":"25 W","f":12.85,"a":-117.2},{"s":"25 W","f":12.95,"a":-117.8},{"s":"25 W","f":13.05,"a":-117.4},

{"s":"OFF","f":6.9,"a":-117.4},{"s":"OFF","f":7.0,"a":-117.0},{"s":"OFF","f":7.1,"a":-117.6},{"s":"OFF","f":7.2,"a":-117.2},{"s":"OFF","f":7.3,"a":-117.8},{"s":"OFF","f":7.4,"a":-117.3},{"s":"OFF","f":7.5,"a":-116.9},{"s":"OFF","f":7.6,"a":-117.5},{"s":"OFF","f":7.7,"a":-117.1},{"s":"OFF","f":7.8,"a":-117.7},{"s":"OFF","f":7.9,"a":-117.2},{"s":"OFF","f":8.0,"a":-116.8},{"s":"OFF","f":8.1,"a":-117.5},{"s":"OFF","f":8.2,"a":-117.0},{"s":"OFF","f":8.3,"a":-117.6},{"s":"OFF","f":8.4,"a":-117.3},{"s":"OFF","f":8.5,"a":-117.9},{"s":"OFF","f":8.6,"a":-117.1},{"s":"OFF","f":8.7,"a":-117.4},{"s":"OFF","f":8.8,"a":-117.0},{"s":"OFF","f":8.9,"a":-117.7},{"s":"OFF","f":9.0,"a":-117.2},{"s":"OFF","f":9.1,"a":-117.5},
{"s":"OFF","f":9.15,"a":-117.1},{"s":"OFF","f":9.19,"a":-117.4},{"s":"OFF","f":9.23,"a":-117.0},{"s":"OFF","f":9.3,"a":-117.5},{"s":"OFF","f":9.4,"a":-117.2},{"s":"OFF","f":9.5,"a":-117.6},{"s":"OFF","f":9.58,"a":-117.0},{"s":"OFF","f":9.63,"a":-116.8},{"s":"OFF","f":9.68,"a":-117.3},{"s":"OFF","f":9.72,"a":-115.8},{"s":"OFF","f":9.78,"a":-116.7},{"s":"OFF","f":9.84,"a":-112.0},{"s":"OFF","f":9.88,"a":-105.0},{"s":"OFF","f":9.94,"a":-99.4},{"s":"OFF","f":9.99,"a":-105.0},{"s":"OFF","f":10.04,"a":-64.5},{"s":"OFF","f":10.09,"a":-105.6},{"s":"OFF","f":10.14,"a":-99.4},{"s":"OFF","f":10.2,"a":-105.0},{"s":"OFF","f":10.27,"a":-112.8},{"s":"OFF","f":10.31,"a":-116.1},{"s":"OFF","f":10.35,"a":-115.2},{"s":"OFF","f":10.41,"a":-116.7},{"s":"OFF","f":10.47,"a":-117.0},{"s":"OFF","f":10.52,"a":-117.4},{"s":"OFF","f":10.6,"a":-117.0},{"s":"OFF","f":10.7,"a":-117.5},{"s":"OFF","f":10.8,"a":-117.1},{"s":"OFF","f":10.88,"a":-117.4},{"s":"OFF","f":10.93,"a":-117.0},
{"s":"OFF","f":11.0,"a":-117.2},{"s":"OFF","f":11.1,"a":-117.6},{"s":"OFF","f":11.2,"a":-116.9},{"s":"OFF","f":11.3,"a":-117.4},{"s":"OFF","f":11.4,"a":-117.0},{"s":"OFF","f":11.5,"a":-117.7},{"s":"OFF","f":11.6,"a":-117.3},{"s":"OFF","f":11.7,"a":-116.8},{"s":"OFF","f":11.8,"a":-117.5},{"s":"OFF","f":11.9,"a":-117.1},{"s":"OFF","f":12.0,"a":-117.6},{"s":"OFF","f":12.1,"a":-117.2},{"s":"OFF","f":12.2,"a":-117.8},{"s":"OFF","f":12.3,"a":-117.0},{"s":"OFF","f":12.4,"a":-117.4},{"s":"OFF","f":12.5,"a":-116.9},{"s":"OFF","f":12.6,"a":-117.6},{"s":"OFF","f":12.7,"a":-117.2},{"s":"OFF","f":12.8,"a":-117.5},{"s":"OFF","f":12.9,"a":-117.0},{"s":"OFF","f":13.0,"a":-117.7},{"s":"OFF","f":13.1,"a":-117.3}
],
"frame":[
{"f":6,"a":-60,"f2":14,"a2":-60},
{"f":6,"a":-120,"f2":14,"a2":-120},
{"f":6,"a":-120,"f2":6,"a2":-60},
{"f":14,"a":-120,"f2":14,"a2":-60}
],
"lines":[
{"f":9.29,"a":-64.4,"f2":10.69,"a2":-64.4},
{"f":9.36,"a":-64.4,"f2":9.36,"a2":-116.9},
{"f":10.47,"a":-64.4,"f2":10.47,"a2":-89.5},
{"f":10.36,"a":-89.5,"f2":10.6,"a2":-89.5}
],
"heads":[
{"f":9.36,"a":-64.4,"dir":"up"},
{"f":10.47,"a":-64.4,"dir":"up"},
{"f":9.36,"a":-116.9,"dir":"down"},
{"f":10.47,"a":-89.5,"dir":"down"}
],
"labels":[
{"f":10.82,"a":-64.4,"t":"Silica fiber in water"},
{"f":8.6,"a":-84.8,"t":"52.4 dB"},
{"f":10.53,"a":-77.9,"t":"24.8 dB"}
],
"pts":[
{"series":"Side-band power vs. acoustical power","p":0.063,"v":0.000025},
{"series":"Side-band power vs. acoustical power","p":0.25,"v":0.000053},
{"series":"Side-band power vs. acoustical power","p":0.563,"v":0.000083},
{"series":"Side-band power vs. acoustical power","p":1,"v":0.000148},
{"series":"Side-band power vs. acoustical power","p":1.563,"v":0.000207},
{"series":"Side-band power vs. acoustical power","p":2.25,"v":0.000293},
{"series":"Side-band power vs. acoustical power","p":4,"v":0.000532},
{"series":"Side-band power vs. acoustical power","p":6.25,"v":0.00087},
{"series":"Side-band power vs. acoustical power","p":14.063,"v":0.00171},
{"series":"Side-band power vs. acoustical power","p":25,"v":0.003355}
],
"fit":[
{"series":"Linear fit","p":0.0,"v":0.0},
{"series":"Linear fit","p":25,"v":0.00325}
],
"note":[
{"p":-0.91,"v":0.00292,"t":"Silica fiber in water"}
]
},
"hconcat":[
{
"width":410,"height":313,
"view":{"stroke":null},
"resolve":{"axis":{"x":"independent","y":"independent"}},
"layer":[
{"data":{"name":"spec"},
"mark":{"type":"line","strokeWidth":1.8},
"encoding":{
"x":{"field":"f","type":"quantitative","scale":{"domain":[6,14],"nice":false,"zero":false},
"axis":{"orient":"bottom","values":[6,7,8,9,10,11,12,13,14],"title":"Frequency (kHz)","labelFontSize":19,"titleFontSize":19,"tickSize":6,"labelPadding":2,"titlePadding":4,"domain":false}},
"y":{"field":"a","type":"quantitative","scale":{"domain":[-120,-58.63],"nice":false,"zero":false},
"axis":{"orient":"left","values":[-120,-110,-100,-90,-80,-70,-60],"title":"Amplitude (dBV)","labelFontSize":19,"titleFontSize":19,"tickSize":6,"labelPadding":5,"titlePadding":0,"domain":false}},
"color":{"field":"s","type":"nominal",
"scale":{"domain":["0.063 W","0.25 W","0.563 W","1 W","1.563 W","2.25 W","4 W","6.25 W","14.063 W","25 W","OFF"],
"range":["#3a3a3a","#ee2020","#2020ee","#ee20ee","#209020","#202090","#9020ee","#902090","#a01818","#909010","#3a78c8"]},
"legend":{"orient":"none","legendX":16.5,"legendY":12,"title":null,"symbolType":"M-2.15,0L2.15,0","symbolSize":400,"symbolStrokeWidth":1.5,"labelFontSize":19,"labelOffset":14,"rowPadding":2.6,"labelLimit":300}}
}},
{"data":{"values":[{"f":6,"a":-120}]},
"mark":{"type":"point","opacity":0},
"encoding":{
"x":{"field":"f","type":"quantitative","scale":{"domain":[6,14],"nice":false,"zero":false},
"axis":{"orient":"bottom","values":[6.5,7.5,8.5,9.5,10.5,11.5,12.5,13.5],"labels":false,"tickSize":3,"domain":false,"title":null}},
"y":{"field":"a","type":"quantitative","scale":{"domain":[-120,-58.63],"nice":false,"zero":false},
"axis":{"orient":"left","values":[-115,-105,-95,-85,-75,-65],"labels":false,"tickSize":3,"domain":false,"title":null}}
}},
{"data":{"name":"frame"},
"mark":{"type":"rule","color":"#000","strokeWidth":1.2},
"encoding":{
"x":{"field":"f","type":"quantitative","axis":null},
"y":{"field":"a","type":"quantitative","axis":null},
"x2":{"field":"f2"},
"y2":{"field":"a2"}
}},
{"data":{"name":"lines"},
"mark":{"type":"rule","color":"#8a8a8a","strokeWidth":1},
"encoding":{
"x":{"field":"f","type":"quantitative","axis":null},
"y":{"field":"a","type":"quantitative","axis":null},
"x2":{"field":"f2"},
"y2":{"field":"a2"}
}},
{"data":{"name":"heads"},
"mark":{"type":"point","filled":false,"stroke":"#8a8a8a","strokeWidth":1,"size":64,"opacity":1},
"encoding":{
"x":{"field":"f","type":"quantitative","axis":null},
"y":{"field":"a","type":"quantitative","axis":null},
"shape":{"field":"dir","type":"nominal","scale":{"domain":["up","down"],"range":["M-1,1.5L0,0L1,1.5","M-1,-1.5L0,0L1,-1.5"]},"legend":null}
}},
{"data":{"name":"labels"},
"mark":{"type":"text","align":"left","baseline":"middle","fontSize":19,"color":"#222"},
"encoding":{
"x":{"field":"f","type":"quantitative","axis":null},
"y":{"field":"a","type":"quantitative","axis":null},
"text":{"field":"t"}
}}
]
},
{
"width":424,"height":323,
"view":{"stroke":null},
"resolve":{"axis":{"x":"independent","y":"independent"}},
"layer":[
{"data":{"name":"fit"},
"mark":{"type":"line","strokeWidth":1.2},
"encoding":{
"x":{"field":"p","type":"quantitative","scale":{"domain":[-1.56,26.04],"nice":false,"zero":false},
"axis":{"orient":"bottom","values":[0,5,10,15,20,25],"title":"Acoustic Power (W)","titleX":222,"titleAlign":"center","labelFontSize":20,"titleFontSize":20,"tickSize":5,"labelPadding":-2,"titlePadding":1,"domain":true,"domainWidth":1.2}},
"y":{"field":"v","type":"quantitative","scale":{"domain":[-0.00026,0.00373],"nice":false,"zero":false},
"axis":{"orient":"left","values":[0,0.0005,0.001,0.0015,0.002,0.0025,0.003,0.0035],"format":".4f","labelExpr":"replace(datum.label,'.',',')","title":"Normalized signal (Power)","labelFontSize":20,"titleFontSize":20,"tickSize":5,"labelPadding":4,"titlePadding":11,"domain":true,"domainWidth":1.2}},
"color":{"field":"series","type":"nominal","scale":{"domain":["Side-band power vs. acoustical power","Linear fit"],"range":["#0000ee","#f08080"]},
"legend":{"orient":"none","legendX":23,"legendY":6.7,"title":null,"symbolSize":400,"symbolStrokeWidth":1.2,"symbolFillColor":"#0000ee","labelFontSize":20,"labelOffset":15,"rowPadding":1.3,"labelLimit":400}}
}},
{"data":{"name":"pts"},
"mark":{"type":"point","filled":false,"fill":"#0000ee","strokeWidth":1,"size":400,"opacity":1},
"encoding":{
"x":{"field":"p","type":"quantitative","scale":{"domain":[-1.56,26.04],"nice":false,"zero":false},
"axis":{"orient":"bottom","values":[2.5,7.5,12.5,17.5,22.5],"labels":false,"tickSize":3,"domain":false,"title":null}},
"y":{"field":"v","type":"quantitative","scale":{"domain":[-0.00026,0.00373],"nice":false,"zero":false},
"axis":{"orient":"left","values":[0.00025,0.00075,0.00125,0.00175,0.00225,0.00275,0.00325],"labels":false,"tickSize":3,"domain":false,"title":null}},
"color":{"field":"series","type":"nominal","scale":{"domain":["Side-band power vs. acoustical power","Linear fit"],"range":["#0000ee","#f08080"]},
"legend":{"orient":"none","legendX":23,"legendY":6.7,"title":null,"symbolSize":400,"symbolStrokeWidth":1.2,"symbolFillColor":"#0000ee","labelFontSize":20,"labelOffset":15,"rowPadding":1.3,"labelLimit":400}},
"shape":{"field":"series","type":"nominal","scale":{"domain":["Side-band power vs. acoustical power","Linear fit"],"range":["M-0.35,-0.35L0.35,-0.35L0.35,0.35L-0.35,0.35Z M-0.35,-0.12L0.35,-0.12 M-0.35,0.12L0.35,0.12","M-2.2,0L2.2,0"]},
"legend":{"orient":"none","legendX":23,"legendY":6.7,"title":null,"symbolSize":400,"symbolStrokeWidth":1.2,"symbolFillColor":"#0000ee","labelFontSize":20,"labelOffset":15,"rowPadding":1.3,"labelLimit":400}}
}},
{"data":{"values":[{}]},
"mark":{"type":"rule","color":"#000","strokeWidth":1.2},
"encoding":{"y":{"datum":0.00373,"type":"quantitative","axis":null}}},
{"data":{"name":"note"},
"mark":{"type":"text","align":"left","baseline":"middle","fontSize":20,"color":"#222"},
"encoding":{
"x":{"field":"p","type":"quantitative","axis":null},
"y":{"field":"v","type":"quantitative","axis":null},
"text":{"field":"t"}
}}
]
}
]
}
